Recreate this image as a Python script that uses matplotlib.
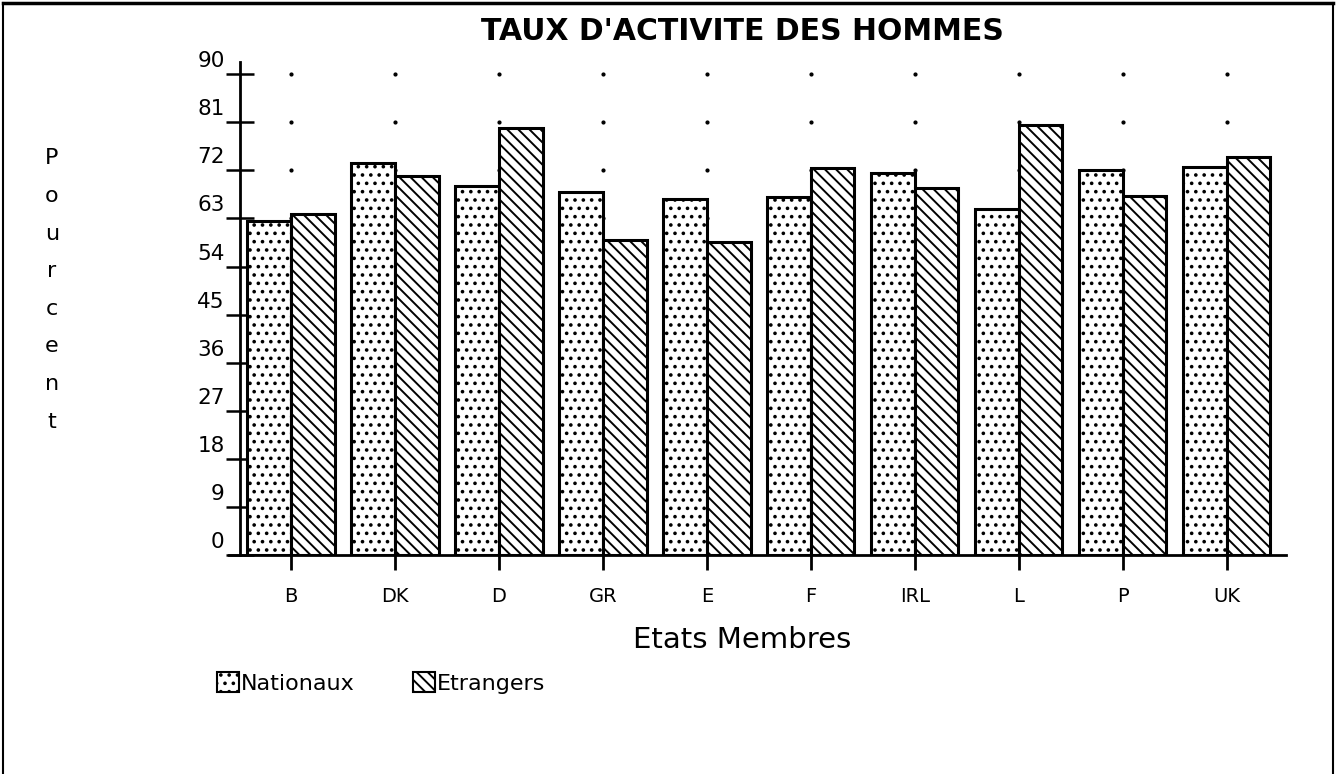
import matplotlib.pyplot as plt
import matplotlib.transforms as mtransforms
from matplotlib.patches import Patch
from matplotlib.lines import Line2D
import numpy as np

# données
etats = ['B', 'DK', 'D', 'GR', 'E', 'F', 'IRL', 'L', 'P', 'UK']
nationaux = [62.6, 73.4, 69.0, 68.0, 66.6, 67.1, 71.5, 64.7, 72.0, 72.7]
etrangers = [63.9, 70.9, 80.0, 58.9, 58.6, 72.5, 68.7, 80.5, 67.2, 74.5]
yticks = [0, 9, 18, 27, 36, 45, 54, 63, 72, 81, 90]

plt.rcParams['hatch.linewidth'] = 1.4

fig = plt.figure(figsize=(13.42, 7.74), dpi=100)
ax = fig.add_axes([240/1342, 1-555/774, (1286-240)/1342, (555-62)/774])

x = np.arange(len(etats))
w = 0.42
ax.bar(x - w/2, nationaux, w, color='white', edgecolor='black', linewidth=2.2,
       hatch='..', zorder=3, label='Nationaux')
ax.bar(x + w/2, etrangers, w, color='white', edgecolor='black', linewidth=2.2,
       hatch='\\\\\\', zorder=3, label='Etrangers')

# grille en points
gx, gy = np.meshgrid(x, yticks[1:])
ax.scatter(gx.ravel(), gy.ravel(), s=4, color='black', zorder=1)

ax.set_xlim(-0.49, 9.57)
ax.set_ylim(0, 92.3)

for s in ['top', 'right']:
    ax.spines[s].set_visible(False)
ax.spines['left'].set_linewidth(2)
ax.spines['bottom'].set_linewidth(2)
ax.spines['bottom'].set_bounds(-0.6, 9.57)

ax.set_xticks(x)
ax.set_xticklabels(etats, fontsize=14)
ax.tick_params(axis='x', direction='out', length=11, width=2, pad=12)
ax.set_yticks(yticks)
ax.set_yticklabels([str(v) for v in yticks], fontsize=15.5)
ax.tick_params(axis='y', direction='inout', length=20, width=1.8, pad=1)
offset = mtransforms.ScaledTranslation(0, 15/100, fig.dpi_scale_trans)
for lab in ax.get_yticklabels():
    lab.set_transform(lab.get_transform() + offset)

fig.text(742/1342, 1-32/774, "TAUX D'ACTIVITE DES HOMMES", fontsize=21.5,
         fontweight='bold', ha='center', va='center')
fig.text(742/1342, 1-640/774, 'Etats Membres', fontsize=21, ha='center', va='center')
fig.text(52/1342, 1-290/774, '\n'.join('Pourcent'), fontsize=16, ha='center',
         va='center', linespacing=2.1)

handles = [Patch(facecolor='white', edgecolor='black', hatch='..', linewidth=1.5),
           Patch(facecolor='white', edgecolor='black', hatch='\\\\\\', linewidth=1.5)]
fig.legend(handles, ['Nationaux', 'Etrangers'], loc='center left',
           bbox_to_anchor=(208/1342, 1-683/774), ncol=2, frameon=False,
           fontsize=16, handlelength=1.0, handleheight=1.0, handletextpad=0.1,
           columnspacing=2.6, borderaxespad=0)

# cadre
fig.add_artist(Line2D([3/1342, 1333/1342], [1-3/774, 1-3/774], color='black', lw=2.5))
fig.add_artist(Line2D([3/1342, 3/1342], [0, 1-3/774], color='black', lw=1.5))
fig.add_artist(Line2D([1333/1342, 1333/1342], [0, 1-3/774], color='black', lw=1.5))

fig.savefig('out.png', dpi=100)
